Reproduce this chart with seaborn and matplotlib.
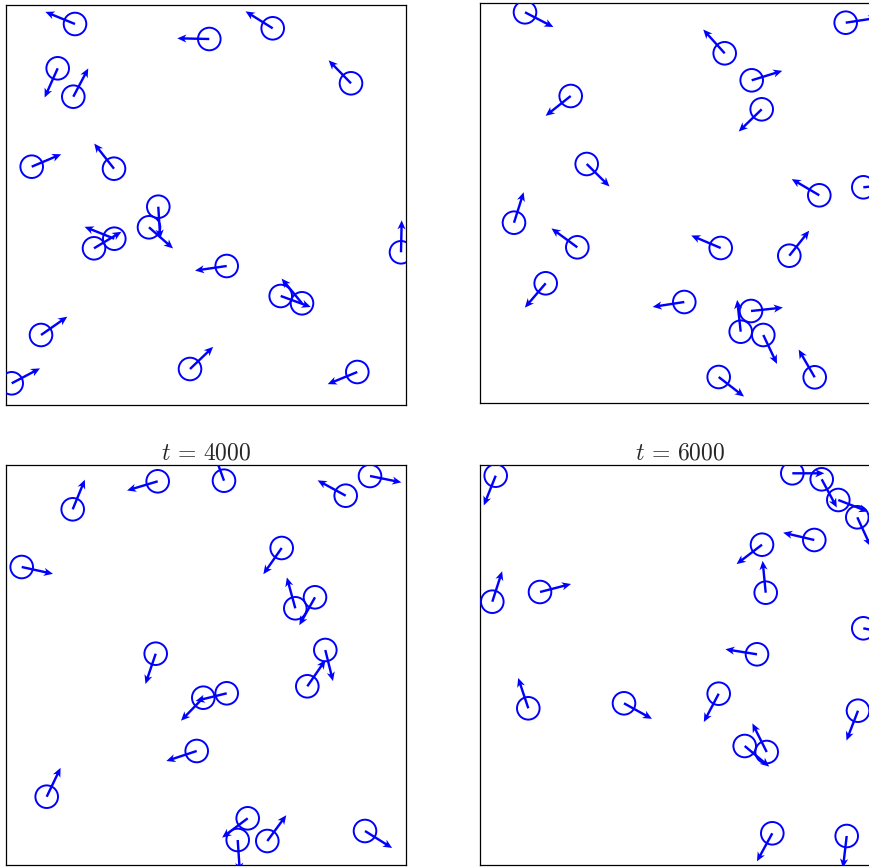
import numpy as np
import pandas as pd
import matplotlib
matplotlib.use("Agg")
import matplotlib.pyplot as plt
import seaborn as sns

# ---- data: particle positions (box 0..400) and heading vectors ----
p1_x  = [69, 203.3, 266.7, 345, 51.7, 67.3, 25.7, 108, 152.3, 143, 108.3, 88, 220.7, 395, 274.7, 296, 35, 184, 5.7, 351.3]
p1_y  = [381, 366, 376.7, 321.7, 336.7, 308.3, 238.3, 236.3, 198.3, 177.7, 166.3, 156.7, 139, 152.7, 109, 101.7, 70, 36, 21.7, 33]
p1_dx = [-30, -32.6, -27.7, -22.7, -13.4, 15, 30, -20, 1.7, 24.3, -30, 28.7, -32.4, 0.7, 29.3, -20.3, 27.3, 23.3, 29, -30]
p1_dy = [12.3, 0.7, 17.3, 23.3, -30, 28.4, 12.7, 25.4, -28.3, -21.4, 12, 17.3, -4.7, 32.3, -10.7, 24.6, 19, 22.3, 15.3, -12.3]

p2_x  = [45, 365.7, 244.7, 271.7, 90.7, 281.7, 106.7, 339.3, 383.3, 34, 97.3, 240.7, 309.3, 65.7, 204.3, 271, 260.7, 283.3, 334.7, 238.7]
p2_y  = [390.7, 380.3, 349.7, 322.7, 307, 293.7, 239, 207.7, 215.7, 180.3, 155.7, 155, 147.3, 119.7, 101, 92, 71.3, 68, 25.7, 26]
p2_dx = [27.7, 24, -20.4, 30, -24, -22.4, 22.3, -26, 1, 9.3, -24.6, -29, 19.4, -20, -30.3, 30.7, -3.4, 13.4, -15.4, 24.6]
p2_dy = [-14.4, 3.7, 22.6, 9.3, -19, -21.7, -22, 15.3, 0.1, 29.4, 18, 12.3, 24.4, -23.4, -4.7, 3.3, 30.7, -28.3, 26.6, -19]

p3_x  = [66.7, 151.7, 218, 339.7, 364, 15.7, 275.7, 289.3, 309, 149.7, 319.3, 301.3, 220.7, 197.3, 190.7, 40.7, 241.7, 231.7, 261.3, 359]
p3_y  = [355.7, 383.7, 384.3, 369.3, 389, 298, 317, 256.7, 267.7, 211.3, 215, 178.7, 171.7, 167.3, 114, 68.3, 46.7, 25, 24, 34]
p3_dx = [11.6, -30, -5.7, -27.4, 31, 30.6, -17.7, -8, -15, -10, 7.4, 17.7, -30, -21.6, -29.4, 13.3, -24.4, 1.7, 18.4, 26]
p3_dy = [28.3, -9, 15.7, 15, -6.3, -6.7, -25.3, 29.3, -26.7, -29.6, -30, 25.6, -7.4, -22.3, -9.7, 27.7, -18.4, -25.3, 25, -16.3]

p4_x  = [15.7, 312.3, 341.7, 358.3, 377.3, 334.3, 282, 285.7, 12.3, 60, 383.3, 277, 48.3, 144, 238.7, 264.7, 286.7, 378, 292.3, 366.7]
p4_y  = [389.3, 391.7, 385.7, 365, 347.7, 325, 320.3, 272.3, 263.3, 273, 236.7, 210.7, 156.7, 161.7, 171.3, 119, 113, 154.3, 31.7, 29]
p4_dx = [-11.7, 31.7, 15, 30, 11.7, -31, -25.3, -3, 10, 31, 1, -31.3, -10, 27.7, -14.7, 24.6, -14, -11.3, -15, -3.4]
p4_dy = [-29.3, 0, -28, -11.7, -25.4, 7.3, -19.3, 31, 31, 8, -0.2, 5, 30, -15.4, -28, -20.7, 28, -29.3, -27.4, -29]

titles = ["", "", r"$t\,=\,4000$", r"$t\,=\,6000$"]
box = 400
arrow_len = 32

panels = [(p1_x, p1_y, p1_dx, p1_dy), (p2_x, p2_y, p2_dx, p2_dy),
          (p3_x, p3_y, p3_dx, p3_dy), (p4_x, p4_y, p4_dx, p4_dy)]

sns.set_style("white")
plt.rcParams["mathtext.fontset"] = "cm"

W, H = 869, 867
fig = plt.figure(figsize=(W / 100, H / 100), dpi=100)
rects_px = [(6, 405), (480, 403), (6, 865), (480, 865)]  # (left, bottom) in pixels from top-left

for (px_left, px_bottom), (xs, ys, dxs, dys), title in zip(rects_px, panels, titles):
    ax = fig.add_axes([px_left / W, (H - px_bottom) / H, 400 / W, 400 / H])
    df = pd.DataFrame({"x": xs, "y": ys, "dx": dxs, "dy": dys})
    norm = np.hypot(df["dx"], df["dy"])
    df["u"] = arrow_len * df["dx"] / norm
    df["v"] = arrow_len * df["dy"] / norm

    sns.scatterplot(data=df, x="x", y="y", ax=ax, marker="o", s=265,
                    facecolor="none", edgecolor="#0000ff", linewidth=1.4,
                    legend=False, zorder=3)
    ax.quiver(df["x"], df["y"], df["u"], df["v"], angles="xy",
              scale_units="xy", scale=1, color="#0000ff", width=0.006,
              headwidth=3.4, headlength=3.8, headaxislength=3.0, zorder=4)

    ax.set_xlim(0, box)
    ax.set_ylim(0, box)
    ax.set_xticks([])
    ax.set_yticks([])
    ax.set_xlabel("")
    ax.set_ylabel("")
    for s in ax.spines.values():
        s.set_color("black")
        s.set_linewidth(0.9)
        s.set_visible(True)
    if title:
        ax.set_title(title, fontsize=17, pad=4)

fig.savefig("out.png", dpi=100)
